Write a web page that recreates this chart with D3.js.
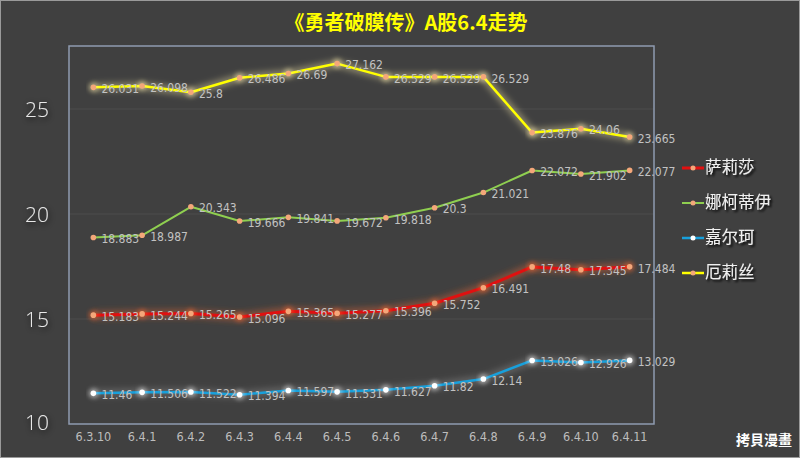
<!DOCTYPE html>
<html><head><meta charset="utf-8">
<script src="https://cdn.jsdelivr.net/npm/d3@7"></script>
<style>
html,body{margin:0;padding:0;background:#404040;}
svg{display:block;}
</style></head>
<body>
<svg id="chart" width="800" height="458"></svg>
<script>
const categories = ["6.3.10","6.4.1","6.4.2","6.4.3","6.4.4","6.4.5","6.4.6","6.4.7","6.4.8","6.4.9","6.4.10","6.4.11"];
const seriesNames = ["萨莉莎","娜柯蒂伊","嘉尔珂","厄莉丝"];
const salisha = [15.183,15.244,15.265,15.096,15.365,15.277,15.396,15.752,16.491,17.48,17.345,17.484];
const nakedi  = [18.883,18.987,20.343,19.666,19.841,19.672,19.818,20.3,21.021,22.072,21.902,22.077];
const jiaerke = [11.46,11.506,11.522,11.394,11.597,11.531,11.627,11.82,12.14,13.026,12.926,13.029];
const elisi   = [26.031,26.098,25.8,26.486,26.69,27.162,26.529,26.529,26.529,23.876,24.06,23.665];
const yTicks = [10,15,20,25];
const title = "《勇者破膜传》A股6.4走势";

const series = [
  {name: seriesNames[0], values: salisha, color: "#e01010", glow: "#ff6a30", glowOp: 0.4, width: 3, marker: "#f4a77a"},
  {name: seriesNames[1], values: nakedi,  color: "#8fcf50", glow: null, glowOp: 0, width: 2, marker: "#f4a77a"},
  {name: seriesNames[2], values: jiaerke, color: "#18a0dc", glow: "#ffffff", glowOp: 0.18, width: 2.5, marker: "#ffffff"},
  {name: seriesNames[3], values: elisi,   color: "#ffff00", glow: "#fff0b0", glowOp: 0.4, width: 2.5, marker: "#f4a77a"}
];

const svg = d3.select("#chart");
const W = 800, H = 458;
const plot = {left: 69, right: 654, top: 46, bottom: 424};

const defs = svg.append("defs");
function glowFilter(id, std) {
  const f = defs.append("filter").attr("id", id).attr("x","-20%").attr("y","-50%").attr("width","140%").attr("height","200%");
  f.append("feGaussianBlur").attr("stdDeviation", std);
}
glowFilter("blur3", 3);
glowFilter("blur2", 2);
const sh = defs.append("filter").attr("id","tshadow").attr("x","-30%").attr("y","-30%").attr("width","160%").attr("height","160%");
sh.append("feGaussianBlur").attr("in","SourceAlpha").attr("stdDeviation",3).attr("result","b");
sh.append("feOffset").attr("in","b").attr("dx",1).attr("dy",2).attr("result","o");
sh.append("feFlood").attr("flood-color","#000").attr("flood-opacity",0.9);
sh.append("feComposite").attr("in2","o").attr("operator","in").attr("result","s");
const m = sh.append("feMerge"); m.append("feMergeNode").attr("in","s"); m.append("feMergeNode").attr("in","SourceGraphic");
const sh2 = defs.append("filter").attr("id","lshadow").attr("x","-30%").attr("y","-30%").attr("width","160%").attr("height","160%");
sh2.append("feGaussianBlur").attr("in","SourceAlpha").attr("stdDeviation",1).attr("result","b");
sh2.append("feOffset").attr("in","b").attr("dx",1.5).attr("dy",1.5).attr("result","o");
sh2.append("feFlood").attr("flood-color","#000").attr("flood-opacity",0.9);
sh2.append("feComposite").attr("in2","o").attr("operator","in").attr("result","s");
const m2 = sh2.append("feMerge"); m2.append("feMergeNode").attr("in","s"); m2.append("feMergeNode").attr("in","SourceGraphic");

// background and outer border
svg.append("rect").attr("x",0.5).attr("y",0.5).attr("width",W-1).attr("height",H-1)
  .attr("fill","#404040").attr("stroke","#9a9a9a").attr("stroke-width",1);

const x = d3.scaleBand().domain(categories).range([plot.left, plot.right]);
const y = d3.scaleLinear().domain([10, 28]).range([plot.bottom, plot.top]);
const cx = d => x(d) + x.bandwidth()/2;

// gridlines
svg.append("g").selectAll("line").data(yTicks.filter(t => t > 10)).join("line")
  .attr("x1", plot.left).attr("x2", plot.right)
  .attr("y1", d => y(d)).attr("y2", d => y(d))
  .attr("stroke", "#4c4c4c").attr("stroke-width", 1.2);

// frame
svg.append("rect").attr("x",plot.left).attr("y",plot.top)
  .attr("width",plot.right-plot.left).attr("height",plot.bottom-plot.top)
  .attr("fill","none").attr("stroke","#8e9bb0").attr("stroke-width",1.5);

// y axis labels
const yAxis = d3.axisLeft(y).tickValues(yTicks).tickSize(0).tickPadding(0);
const yg = svg.append("g").attr("transform","translate(49,0)").call(yAxis);
yg.select(".domain").remove();
yg.selectAll("text").attr("fill","#e8e8e8").attr("font-size",21)
  .attr("font-family","'Open Sans','DejaVu Sans',sans-serif").attr("font-weight",300)
  .attr("filter","url(#tshadow)")
  .attr("dy","0.36em");
yg.selectAll(".tick").filter(d => d === 10).select("text").attr("dy","0.25em");

// x axis labels
const xAxis = d3.axisBottom(x).tickSize(0).tickPadding(0);
const xg = svg.append("g").attr("transform","translate(0,432)").call(xAxis);
xg.select(".domain").remove();
xg.selectAll("text").attr("fill","#bdbdbd").attr("font-size",12.5)
  .attr("font-family","'Liberation Sans Narrow','DejaVu Sans Condensed',sans-serif");

// lines
const line = d3.line().x((d,i) => cx(categories[i])).y(d => y(d));
const lg = svg.append("g");
series.forEach(s => {
  if (s.glow) {
    lg.append("path").datum(s.values).attr("d", line).attr("fill","none")
      .attr("stroke", s.glow).attr("stroke-width", s.width + 5).attr("stroke-opacity", s.glowOp)
      .attr("stroke-linejoin","round").attr("filter","url(#blur3)");
  }
  lg.append("path").datum(s.values).attr("d", line).attr("fill","none")
    .attr("stroke", s.color).attr("stroke-width", s.width).attr("stroke-linejoin","round");
  const pts = s.values.map((v,i) => ({v, c: categories[i]}));
  if (s.glow) {
    lg.append("g").selectAll("circle").data(pts).join("circle")
      .attr("cx", d => cx(d.c)).attr("cy", d => y(d.v)).attr("r", 5)
      .attr("fill", s.glow).attr("opacity",0.45).attr("filter","url(#blur2)");
  }
  lg.append("g").selectAll("circle").data(pts).join("circle")
    .attr("cx", d => cx(d.c)).attr("cy", d => y(d.v)).attr("r", 2.8)
    .attr("fill", s.marker);
  lg.append("g").selectAll("text").data(pts).join("text")
    .attr("x", d => cx(d.c) + 8).attr("y", d => y(d.v) + 1.5)
    .attr("dy","0.35em")
    .attr("fill","#c2c2c2").attr("font-size",12)
    .attr("font-family","'Liberation Sans Narrow','DejaVu Sans Condensed',sans-serif")
    .text(d => d.v);
});

// legend
const leg = svg.append("g");
series.forEach((s, i) => {
  const ly = 168 + i * 35;
  leg.append("line").attr("x1", 682).attr("x2", 704).attr("y1", ly).attr("y2", ly)
    .attr("stroke", s.color).attr("stroke-width", s.width);
  leg.append("circle").attr("cx", 693).attr("cy", ly).attr("r", 2.5).attr("fill", s.marker);
  leg.append("text").attr("x", 705).attr("y", ly).attr("dy","0.3em")
    .attr("fill","#f0f0f0").attr("font-size",16.5)
    .attr("font-family","'Noto Sans CJK SC',sans-serif").attr("filter","url(#lshadow)")
    .text(s.name);
});

// title
svg.append("text").attr("x", 406).attr("y", 23).attr("dy","0.35em")
  .attr("text-anchor","middle").attr("fill","#ffff00").attr("font-size",20).attr("font-weight","bold")
  .attr("font-family","'Noto Sans CJK SC',sans-serif").text(title);

// watermark
svg.append("text").attr("x", 792).attr("y", 440).attr("dy","0.35em")
  .attr("text-anchor","end").attr("fill","#ffffff").attr("font-size",14).attr("font-weight","bold")
  .attr("font-family","'Noto Sans CJK TC',sans-serif").text("拷貝漫畫");
</script>
</body></html>
